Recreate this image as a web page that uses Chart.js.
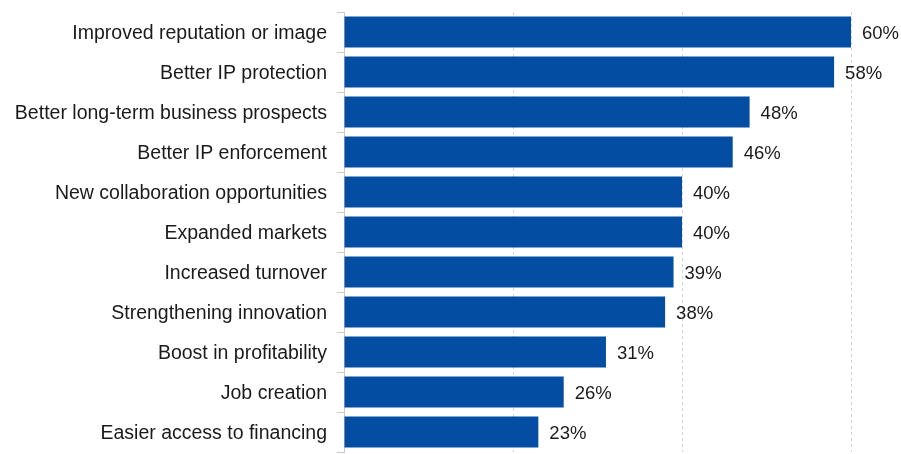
<!DOCTYPE html>
<html>
<head>
<meta charset="utf-8">
<script src="https://cdn.jsdelivr.net/npm/chart.js@4/dist/chart.umd.min.js"></script>
<style>
  html, body { margin: 0; padding: 0; background: #fff; overflow: hidden; }
  canvas { display: block; }
</style>
</head>
<body>
<canvas id="benefitsChart" width="901" height="454"></canvas>
<script>
const categories = [
  'Improved reputation or image',
  'Better IP protection',
  'Better long-term business prospects',
  'Better IP enforcement',
  'New collaboration opportunities',
  'Expanded markets',
  'Increased turnover',
  'Strengthening innovation',
  'Boost in profitability',
  'Job creation',
  'Easier access to financing'
];
const shares = [60, 58, 48, 46, 40, 40, 39, 38, 31, 26, 23];
const xTicks = [0, 20, 40, 60];

// draws the "60%" style labels at the end of each bar
const valueLabels = {
  id: 'valueLabels',
  afterDatasetsDraw(chart) {
    const ctx = chart.ctx;
    const meta = chart.getDatasetMeta(0);
    ctx.save();
    ctx.font = '18.5px "Liberation Sans", Arial, sans-serif';
    ctx.fillStyle = '#1a1a1a';
    ctx.textAlign = 'left';
    ctx.textBaseline = 'middle';
    meta.data.forEach((bar, i) => {
      ctx.fillText(shares[i] + '%', bar.x + 11, bar.y + 2);
    });
    ctx.restore();
  }
};

const ctx = document.getElementById('benefitsChart').getContext('2d');
new Chart(ctx, {
  type: 'bar',
  data: {
    labels: categories,
    datasets: [{
      data: shares,
      backgroundColor: '#034ea2',
      borderWidth: 0,
      barPercentage: 0.77,
      categoryPercentage: 1
    }]
  },
  options: {
    indexAxis: 'y',
    responsive: false,
    animation: false,
    layout: { autoPadding: false, padding: { top: 12, right: 50, bottom: 2, left: 0 } },
    plugins: {
      legend: { display: false },
      tooltip: { enabled: false }
    },
    scales: {
      x: {
        min: 0,
        max: 60,
        afterBuildTicks: (scale) => { scale.ticks = xTicks.map(v => ({ value: v })); },
        afterFit: (scale) => { scale.height = 0; },
        ticks: { display: false },
        border: { display: false, dash: [3, 3] },
        grid: {
          color: (c) => c.tick && c.tick.value === 0 ? 'rgba(0,0,0,0)' : '#d4d4d4',
          lineWidth: 1,
          drawTicks: false
        }
      },
      y: {
        afterFit: (scale) => {
          scale.width = 344;
          scale.paddingTop = 0;
          scale.paddingBottom = 0;
        },
        border: { display: true, color: '#c8c8c8', width: 1 },
        grid: {
          offset: true,
          drawOnChartArea: false,
          drawTicks: true,
          tickLength: 7,
          color: '#c8c8c8'
        },
        ticks: {
          padding: 10,
          labelOffset: 2,
          color: '#1a1a1a',
          font: { family: '"Liberation Sans", Arial, sans-serif', size: 19.5 }
        }
      }
    }
  },
  plugins: [valueLabels]
});
</script>
</body>
</html>
